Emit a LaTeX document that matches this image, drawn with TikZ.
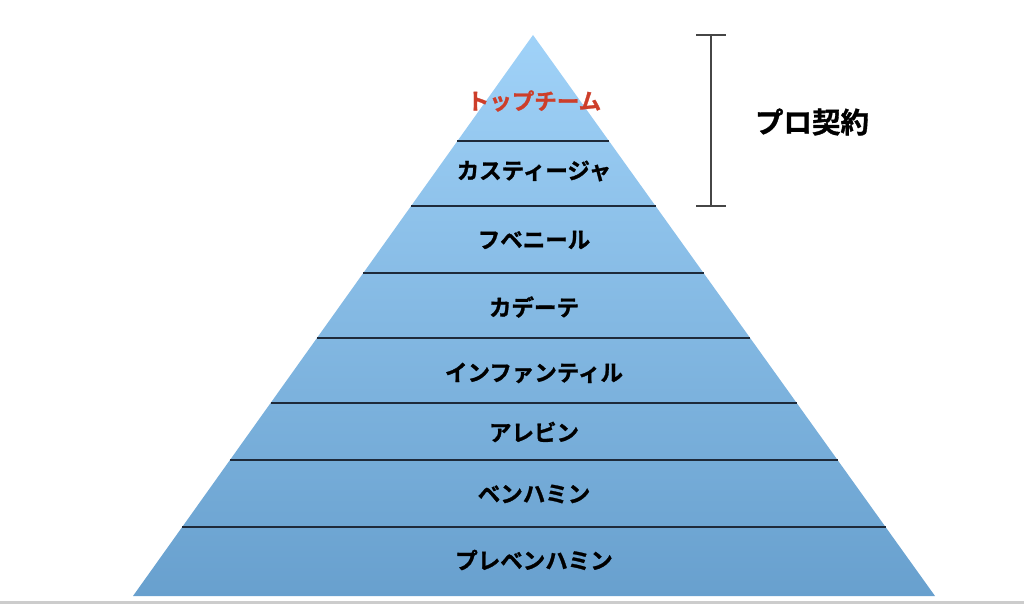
\documentclass[tikz,border=0pt]{standalone}
\usepackage{fontspec}
\newfontfamily\jpfont{Noto Sans CJK JP}[BoldFont={Noto Sans CJK JP Bold}, BoldFeatures={FakeBold=1.2}]
\usetikzlibrary{calc}
\definecolor{tiertop}{RGB}{160,210,248}
\definecolor{tierbot}{RGB}{104,160,206}
\definecolor{tierline}{RGB}{30,42,58}
\definecolor{topred}{RGB}{205,62,42}
\definecolor{brack}{RGB}{70,70,70}
\tikzset{
  tier/.style={font=\jpfont\bfseries\fontsize{22.5}{22.5}\selectfont, text=black, inner sep=0pt},
  divider/.style={tierline, line width=1.4pt},
  bracket/.style={brack, line width=1.2pt}
}

\begin{document}
\begin{tikzpicture}[x=1pt,y=-1pt]
\useasboundingbox (0,0) rectangle (1024,604);

% Define nodes

\coordinate (apex) at (533,35);
\coordinate (bl) at (133,596);
\coordinate (br) at (935,596);

\shade[top color=tiertop, bottom color=tierbot] (apex) -- (bl) -- (br) -- cycle;

\node[tier, text=topred] (top)   at (534,101) {トップチーム};
\node[tier]              (cast)  at (534,171) {カスティージャ};
\node[tier]              (juv)   at (534,240) {フベニール};
\node[tier]              (cad)   at (534,307) {カデーテ};
\node[tier]              (inf)   at (534,373) {インファンティル};
\node[tier]              (ale)   at (534,432) {アレビン};
\node[tier]              (ben)   at (534,494) {ベンハミン};
\node[tier]              (pre)   at (534,560) {プレベンハミン};

\node[tier, font=\jpfont\bfseries\fontsize{28.5}{28.5}\selectfont] (pro) at (812,122) {プロ契約};

\coordinate (bt) at (711,35);
\coordinate (bb) at (711,206);
\coordinate (btl) at (696,35);
\coordinate (btr) at (726,35);
\coordinate (bbl) at (696,206);
\coordinate (bbr) at (726,206);

\coordinate (floorl) at (0,602);
\coordinate (floorr) at (1024,602);

% Connect the nodes

\foreach \y [count=\i] in {141,206,273,338,403,460,527} {
  \path ($(apex)!{(\y-35)/561}!(bl)$) coordinate (l\i)
        ($(apex)!{(\y-35)/561}!(br)$) coordinate (r\i);
  \draw[divider] (l\i) -- (r\i);
}

\draw[bracket] (bt) -- (bb);
\draw[bracket] (btl) -- (btr);
\draw[bracket] (bbl) -- (bbr);

\draw[black!20, line width=3pt] (floorl) -- (floorr);

\end{tikzpicture}
\end{document}
